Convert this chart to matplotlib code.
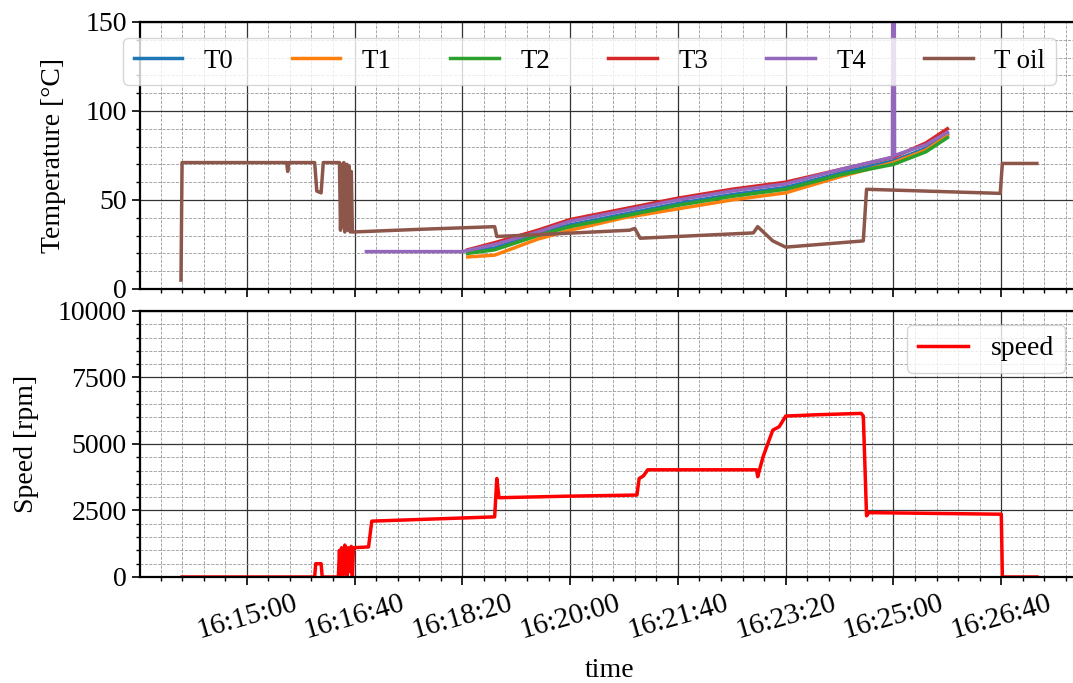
import matplotlib
matplotlib.use("Agg")
import matplotlib.pyplot as plt
from matplotlib.ticker import MultipleLocator, FuncFormatter

plt.rcParams['font.family'] = ['Liberation Serif', 'DejaVu Serif']
plt.rcParams['font.size'] = 20


def sec(s):
    h, m, x = s.split(":")
    return int(h) * 3600 + int(m) * 60 + float(x)


def hms(v, pos=None):
    v = int(round(v))
    return "%02d:%02d:%02d" % (v // 3600, (v // 60) % 60, v % 60)


# temperatures
t0_time = ["16:18:25", "16:18:50", "16:19:30", "16:20:00", "16:20:50", "16:21:40", "16:22:30",
           "16:23:20", "16:24:10", "16:25:00", "16:25:30", "16:25:50"]
t0_val = [21, 23, 31, 36, 42, 48, 53, 57, 65, 72, 79, 87]

t1_time = t0_time
t1_val = [18, 19, 28, 33, 40, 45, 50, 54, 63, 71, 78, 86]

t2_time = t0_time
t2_val = [20, 22, 30, 35, 41, 47, 52, 56, 64, 70, 77, 85]

t3_time = t0_time
t3_val = [22, 26, 33, 39, 45, 51, 56, 60, 67, 74, 82, 90]

t4_time = ["16:16:51", "16:17:30", "16:18:20", "16:18:50", "16:19:30", "16:20:00", "16:20:50",
           "16:21:40", "16:22:30", "16:23:20", "16:24:10", "16:24:59", "16:25:00", "16:25:01",
           "16:25:30", "16:25:50"]
t4_val = [21, 21, 21, 25, 32, 38, 44, 50, 55, 59, 67, 74, 400, 75, 81, 88]

toil_time = ["16:13:59", "16:14:00", "16:15:37", "16:15:38", "16:15:39", "16:16:03", "16:16:05",
             "16:16:09", "16:16:11", "16:16:26", "16:16:27", "16:16:28", "16:16:29", "16:16:30",
             "16:16:31", "16:16:33", "16:16:34", "16:16:35", "16:16:36", "16:16:37", "16:16:38",
             "16:17:40", "16:18:50", "16:18:52", "16:19:30", "16:20:55", "16:21:00", "16:21:05",
             "16:22:50", "16:22:54", "16:23:08", "16:23:20", "16:24:32", "16:24:35", "16:26:39",
             "16:26:41", "16:27:13"]
toil_val = [5, 71, 71, 66, 71, 71, 55, 54, 71, 71, 33, 70, 35, 71, 32, 70, 33, 69, 32, 66, 32,
            33.5, 35, 29.5, 30.5, 33, 34, 28.5, 31.5, 35, 27, 23.5, 27, 56, 53.7, 70.5, 70.5]

# speed
speed_time = ["16:14:00", "16:16:03", "16:16:04", "16:16:09", "16:16:10", "16:16:25", "16:16:26",
              "16:16:27", "16:16:28", "16:16:30", "16:16:31", "16:16:33", "16:16:34", "16:16:36",
              "16:16:37", "16:16:38", "16:16:39", "16:16:53", "16:16:56", "16:18:50", "16:18:52",
              "16:18:54", "16:20:00", "16:21:02", "16:21:04", "16:21:08", "16:21:12", "16:22:53",
              "16:22:54", "16:22:59", "16:23:08", "16:23:14", "16:23:20", "16:23:50", "16:24:30",
              "16:24:32", "16:24:35", "16:24:37", "16:26:40", "16:26:41", "16:27:13"]
speed_val = [0, 0, 500, 500, 0, 0, 1000, 0, 1100, 100, 1200, 0, 1100, 200, 1150, 0, 1100, 1130,
             2100, 2260, 3700, 2980, 3040, 3080, 3700, 3800, 4030, 4030, 3770, 4520, 5520, 5650,
             6050, 6100, 6150, 6050, 2300, 2420, 2360, 0, 0]

temps = [("T0", t0_time, t0_val, "#1f77b4"),
         ("T1", t1_time, t1_val, "#ff7f0e"),
         ("T2", t2_time, t2_val, "#2ca02c"),
         ("T3", t3_time, t3_val, "#d62728"),
         ("T4", t4_time, t4_val, "#9467bd"),
         ("T oil", toil_time, toil_val, "#8c564b")]

fig = plt.figure(figsize=(10.73, 6.83), dpi=100)
ax1 = fig.add_axes([0.1305, 0.5769, 0.875, 0.391])
ax2 = fig.add_axes([0.1305, 0.1552, 0.875, 0.3895], sharex=ax1)

for name, tt, vv, c in temps:
    ax1.plot([sec(s) for s in tt], vv, color=c, linewidth=2.5, label=name)
ax2.plot([sec(s) for s in speed_time], speed_val, color="red", linewidth=2.5, label="speed")

ax1.set_ylim(0, 150)
ax1.yaxis.set_major_locator(MultipleLocator(50))
ax1.yaxis.set_minor_locator(MultipleLocator(10))
ax1.set_ylabel("Temperature [°C]", labelpad=14)
ax1.legend(loc="upper left", ncol=6, fontsize=19.4, borderaxespad=0,
           bbox_to_anchor=(-0.018, 0.94), handlelength=1.8, columnspacing=2.16)

ax2.set_ylim(0, 10000)
ax2.yaxis.set_major_locator(MultipleLocator(2500))
ax2.yaxis.set_minor_locator(MultipleLocator(500))
ax2.set_ylabel("Speed [rpm]", labelpad=14)
ax2.set_xlabel("time", labelpad=10)
ax2.legend(loc="upper right", handlelength=1.8)

ax2.set_xlim(sec("16:13:21"), sec("16:27:52"))
ax2.xaxis.set_major_locator(MultipleLocator(100))
ax2.xaxis.set_minor_locator(MultipleLocator(20))
ax2.xaxis.set_major_formatter(FuncFormatter(hms))
ax2.tick_params(axis="x", which="major", labelsize=21)
plt.setp(ax1.get_xticklabels(), visible=False)
for lab in ax2.get_xticklabels():
    lab.set_rotation(16)
    lab.set_ha("center")

for ax in (ax1, ax2):
    ax.grid(which="major", color="#333333", linestyle="-", linewidth=0.9)
    ax.grid(which="minor", color="#999999", linestyle="--", linewidth=0.6)
    ax.tick_params(which="major", length=6, width=1.2)
    ax.tick_params(which="minor", length=3, width=1)
    for sp in ax.spines.values():
        sp.set_linewidth(1.6)

fig.savefig("out.png", dpi=100)
